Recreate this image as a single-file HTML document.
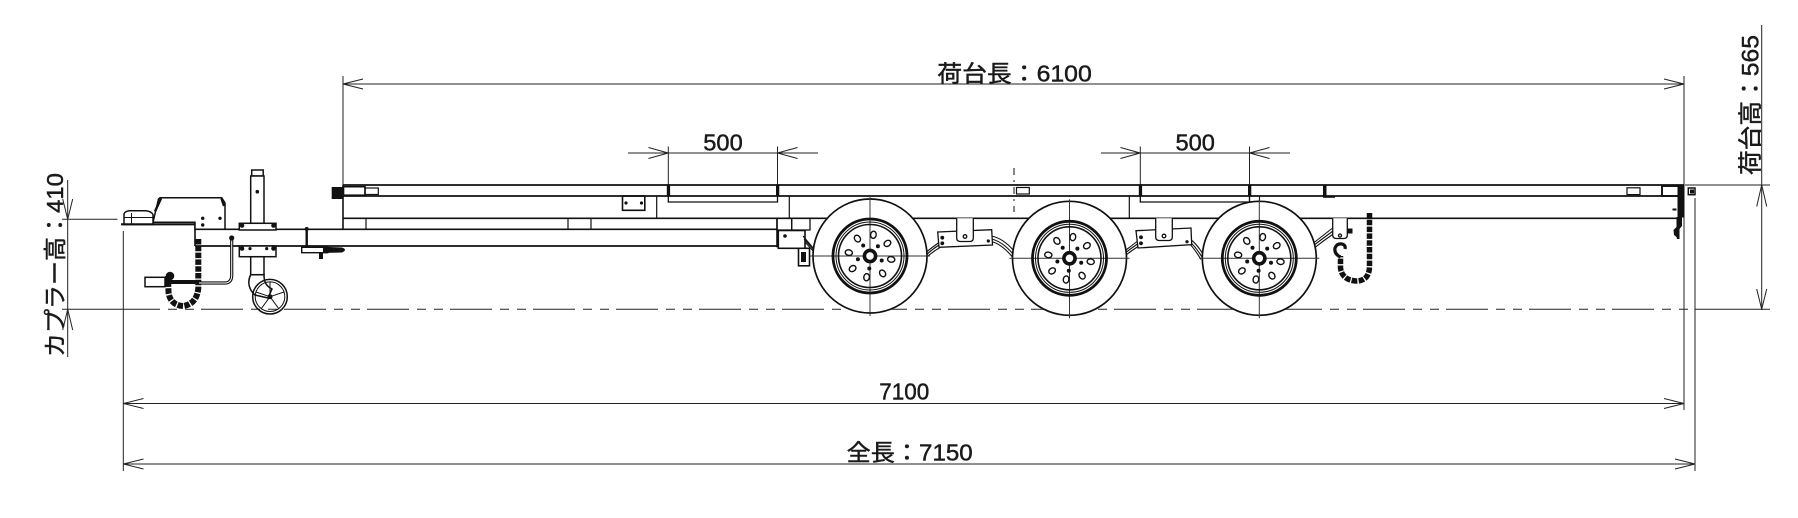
<!DOCTYPE html>
<html><head><meta charset="utf-8">
<style>
html,body{margin:0;padding:0;background:#fff;}
svg{display:block;}
text{font-family:"Liberation Sans","Noto Sans CJK JP",sans-serif;fill:#1a1a1a;stroke:#1a1a1a;stroke-width:0.45;}
</style></head><body>
<svg width="1798" height="518" viewBox="0 0 1798 518" xmlns="http://www.w3.org/2000/svg">
<defs>
<g id="wheel">
  <circle r="57" fill="#fff" stroke="#111" stroke-width="1.7"/>
  <line x1="0" y1="-59" x2="0" y2="60" stroke="#333" stroke-width="1"/>
  <line x1="-60" y1="0" x2="60" y2="0" stroke="#333" stroke-width="1"/>
  <circle r="37" fill="none" stroke="#111" stroke-width="2.8"/>
  <circle r="34" fill="none" stroke="#111" stroke-width="1"/>
  <circle r="31.5" fill="none" stroke="#111" stroke-width="1.6"/>
  <g fill="#fff" stroke="#111" stroke-width="1.4">
    <ellipse cx="21.2" cy="3.4" rx="3.6" ry="2.8" transform="rotate(9 21.2 3.4)"/>
    <ellipse cx="12.6" cy="17.4" rx="3.6" ry="2.8" transform="rotate(54 12.6 17.4)"/>
    <ellipse cx="-3.4" cy="21.2" rx="3.6" ry="2.8" transform="rotate(99 -3.4 21.2)"/>
    <ellipse cx="-17.4" cy="12.6" rx="3.6" ry="2.8" transform="rotate(144 -17.4 12.6)"/>
    <ellipse cx="-21.2" cy="-3.4" rx="3.6" ry="2.8" transform="rotate(189 -21.2 -3.4)"/>
    <ellipse cx="-12.6" cy="-17.4" rx="3.6" ry="2.8" transform="rotate(234 -12.6 -17.4)"/>
    <ellipse cx="3.4" cy="-21.2" rx="3.6" ry="2.8" transform="rotate(279 3.4 -21.2)"/>
    <ellipse cx="17.4" cy="-12.6" rx="3.6" ry="2.8" transform="rotate(324 17.4 -12.6)"/>
  </g>
  <g fill="#111">
    <circle cx="11.7" cy="4.5" r="2"/>
    <circle cx="-0.7" cy="12.5" r="2"/>
    <circle cx="-12.1" cy="3.2" r="2"/>
    <circle cx="-6.8" cy="-10.5" r="2"/>
    <circle cx="7.9" cy="-9.7" r="2"/>
  </g>
  <circle r="5.6" fill="#fff" stroke="#111" stroke-width="3.6"/>
</g>
</defs>

<!-- ========== DIMENSIONS ========== -->
<g stroke="#222" stroke-width="1" fill="none">
  <!-- 6100 -->
  <line x1="343" y1="84" x2="1684" y2="84"/>
  <polyline points="363,79 343,84 363,89"/>
  <polyline points="1664,79 1684,84 1664,89"/>
  <line x1="343" y1="76" x2="343" y2="185"/>
  <line x1="1684" y1="76" x2="1684" y2="410"/>
  <!-- 500 #1 -->
  <line x1="628" y1="153" x2="818" y2="153"/>
  <polyline points="648.5,147.5 668.3,153 648.5,158.5"/>
  <polyline points="797.5,147.5 777.5,153 797.5,158.5"/>
  <line x1="668.3" y1="146.5" x2="668.3" y2="185"/>
  <line x1="777.5" y1="146.5" x2="777.5" y2="185"/>
  <!-- 500 #2 -->
  <line x1="1101" y1="153" x2="1290" y2="153"/>
  <polyline points="1120.5,147.5 1140.3,153 1120.5,158.5"/>
  <polyline points="1269.5,147.5 1249.5,153 1269.5,158.5"/>
  <line x1="1140.3" y1="146.5" x2="1140.3" y2="185"/>
  <line x1="1249.5" y1="146.5" x2="1249.5" y2="196"/>
  <!-- 7100 -->
  <line x1="123.3" y1="403.5" x2="1684" y2="403.5"/>
  <polyline points="143.5,398.5 123.3,403.5 143.5,408.5"/>
  <polyline points="1664,398.5 1684,403.5 1664,408.5"/>
  <!-- 7150 -->
  <line x1="123.3" y1="464" x2="1695" y2="464"/>
  <polyline points="143.5,459 123.3,464 143.5,469"/>
  <polyline points="1675,459 1695,464 1675,469"/>
  <line x1="123.3" y1="231" x2="123.3" y2="471"/>
  <line x1="1695" y1="198" x2="1695" y2="471"/>
  <!-- 410 (left) -->
  <line x1="67.7" y1="180" x2="67.7" y2="357"/>
  <polyline points="62.7,199 67.7,219.3 72.7,199"/>
  <polyline points="62.7,330 67.7,309.3 72.7,330"/>
  <line x1="62" y1="219.3" x2="117.5" y2="219.3"/>
  <!-- 565 (right) -->
  <line x1="1761.7" y1="25" x2="1761.7" y2="310"/>
  <polyline points="1756.7,206.5 1761.7,185 1766.7,206.5"/>
  <polyline points="1756.7,289 1761.7,309.3 1766.7,289"/>
  <line x1="1685" y1="185" x2="1770" y2="185"/>
  <!-- ground line -->
  <line x1="62" y1="309.3" x2="118" y2="309.3"/>
  <line x1="118" y1="309.3" x2="1707" y2="309.3" stroke-dasharray="42 8 9 8 9 7"/>
  <line x1="1707" y1="309.3" x2="1770" y2="309.3"/>
</g>

<!-- dimension texts -->
<text x="937.3" y="81.5" font-size="23" textLength="154.5" lengthAdjust="spacingAndGlyphs">荷台長：6100</text>
<text x="703.3" y="150.7" font-size="23" textLength="39.4" lengthAdjust="spacingAndGlyphs">500</text>
<text x="1175.5" y="150.7" font-size="23" textLength="39.4" lengthAdjust="spacingAndGlyphs">500</text>
<text x="879.3" y="399.3" font-size="23" textLength="50" lengthAdjust="spacingAndGlyphs">7100</text>
<text x="846.7" y="460.5" font-size="23" textLength="126" lengthAdjust="spacingAndGlyphs">全長：7150</text>
<text transform="translate(1758.5,175) rotate(-90)" font-size="24" textLength="140" lengthAdjust="spacingAndGlyphs">荷台高：565</text>
<text transform="translate(63,357) rotate(-90)" font-size="23" textLength="184" lengthAdjust="spacingAndGlyphs">カプラー高：410</text>

<!-- ========== TRAILER BODY ========== -->
<g stroke="#111" stroke-width="1.6" fill="none">
  <!-- deck -->
  <line x1="343" y1="185" x2="1684" y2="185" stroke-width="1.8"/>
  <line x1="343" y1="196" x2="1682" y2="196" stroke-width="1.7"/>
  <line x1="343" y1="218.3" x2="1677" y2="218.3" stroke-width="1.7"/>
  <line x1="343" y1="185" x2="343" y2="229.3"/>
  <rect x="343.5" y="186.7" width="21.5" height="8.5"/>
  <rect x="365" y="188" width="13.3" height="6.5" stroke-width="1.2"/>
  <!-- tongue / drawbar -->
  <line x1="195" y1="229.3" x2="777" y2="229.3" stroke-width="1.7"/>
  <line x1="195" y1="246" x2="777" y2="246" stroke-width="1.7"/>
  <line x1="195" y1="222" x2="195" y2="246"/>
  <line x1="366" y1="218.3" x2="366" y2="229.3" stroke-width="1.2"/>
  <line x1="568" y1="218.3" x2="568" y2="229.3" stroke-width="1.2"/>
  <line x1="591" y1="218.3" x2="591" y2="229.3" stroke-width="1.2"/>
  <!-- small box with dots -->
  <rect x="622.5" y="196" width="22.3" height="14.3"/>
  <!-- slot 1 -->
  <line x1="656.7" y1="196" x2="656.7" y2="218.3" stroke-width="1.2"/>
  <polyline points="668.3,196 668.3,202 777.5,202 777.5,196" stroke-width="1.3"/>
  <line x1="789.3" y1="196" x2="789.3" y2="218.3" stroke-width="1.2"/>
  <!-- front axle area -->
  <line x1="777" y1="218.3" x2="777" y2="247.3"/>
  <rect x="777" y="218.3" width="14.7" height="11.7" stroke-width="1.3"/>
  <rect x="791.7" y="218.3" width="18.3" height="11.7" stroke-width="1.3"/>
  <rect x="778.3" y="230.5" width="26.7" height="17.8" fill="#fff"/>
  <rect x="798.5" y="248.3" width="11" height="17.5" fill="#fff" stroke-width="1.6"/>
  <!-- center mark -->
  <line x1="1014" y1="168" x2="1014" y2="212" stroke-width="1" stroke-dasharray="7 5 2 5"/>
  <rect x="1016.5" y="187.5" width="12.8" height="6.5" stroke-width="1.2"/>
  <!-- slot 2 -->
  <line x1="1129.3" y1="196" x2="1129.3" y2="218.3" stroke-width="1.2"/>
  <polyline points="1140.3,196 1140.3,202 1249.5,202 1249.5,196" stroke-width="1.3"/>
  <rect x="1249.5" y="196" width="10" height="5.7" stroke-width="1.1"/>
  <!-- rear end -->
  <line x1="1323" y1="196.8" x2="1335" y2="196.8" stroke-width="2"/>
  <rect x="1627" y="187.8" width="13" height="6.8" stroke-width="1.2"/>
  <rect x="1662" y="186" width="19.5" height="10" stroke-width="1.9"/>
  <rect x="1688.3" y="188" width="6.7" height="6.7" stroke-width="1.5"/>
</g>
<g fill="#111">
  <rect x="331.7" y="187" width="11.5" height="12"/>
  <rect x="666.8" y="185" width="3.3" height="11"/>
  <rect x="776" y="185" width="3.3" height="11"/>
  <rect x="1138.8" y="185" width="3.3" height="11"/>
  <rect x="1248" y="185" width="3.3" height="11"/>
  <rect x="1323" y="185" width="3.5" height="12"/>
  <rect x="1677.5" y="185.5" width="7" height="32"/>
  <rect x="1690" y="189.5" width="4" height="4"/>
  <path d="M1676.5,217 L1676.5,227 L1673.5,230 L1674,235 L1676.5,237 L1677,239 L1679.5,239 L1679.5,229 L1682,226 L1682,217 Z"/>
  <rect x="1672.5" y="208.5" width="4" height="2"/>
  <circle cx="626" cy="203" r="1.6"/>
  <circle cx="641.5" cy="203" r="1.6"/>
  <circle cx="785" cy="236" r="1.8"/>
  <rect x="801" y="252" width="5" height="10"/>
</g>

<!-- springs (drawn before wheels) -->
<g stroke="#111" stroke-width="1.1" fill="none">
  <path d="M804,239 L815,251"/><path d="M805,242 L815,253"/><path d="M803,236 L814,249"/>
  <path d="M924,257 Q931,250 939,245"/><path d="M924,254 Q931,248 939,242.5"/><path d="M924,259.5 Q932,252 940,247.5"/>
  <path d="M991,236 Q1003,238 1014,251"/><path d="M991,239 Q1002,241 1013,254"/><path d="M991,241.5 Q1001,243.5 1012,256.5"/>
  <path d="M1124,254 Q1130,249 1137.5,244"/><path d="M1124,256.5 Q1131,251 1138,246.5"/><path d="M1124,251.5 Q1130,247 1137,241.5"/>
  <path d="M1190,239 Q1196,243 1203,254"/><path d="M1190,242 Q1195,246 1202,257"/><path d="M1190,244.5 Q1194,248 1201,259.5"/>
  <path d="M1313,246 Q1322,239 1333,231"/><path d="M1313,249 Q1323,241 1334,233.5"/><path d="M1313,243.5 Q1321,237 1332,228.5"/>
</g>

<!-- wheels -->
<use href="#wheel" x="870" y="256"/>
<use href="#wheel" x="1069.5" y="258.3"/>
<use href="#wheel" x="1259.3" y="258.3"/>

<!-- spring hangers -->
<g stroke="#111" stroke-width="1.3" fill="#fff">
  <polygon points="937.7,232 991.7,229.7 992.5,245 939,247.3"/>
  <path d="M956.7,218.3 L956.7,238 Q956.7,241.5 960.2,241.5 L969.8,241.5 Q973.3,241.5 973.3,238 L973.3,218.3"/>
  <circle cx="965" cy="236.5" r="1.8"/>
  <polygon points="1136,230.7 1191,228 1191.7,244.7 1138,248"/>
  <path d="M1155.7,218.3 L1155.7,237 Q1155.7,240.5 1159.2,240.5 L1168.8,240.5 Q1172.3,240.5 1172.3,237 L1172.3,218.3"/>
  <circle cx="1164" cy="236" r="1.8"/>
  <path d="M1332.7,218.3 L1332.7,235 Q1332.7,238.5 1336.2,238.5 L1343.8,238.5 Q1347.3,238.5 1347.3,235 L1347.3,218.3"/>
  <circle cx="1340" cy="235.5" r="1.5"/>
</g>
<g fill="#111">
  <circle cx="942.3" cy="237.7" r="1.9"/><circle cx="942.3" cy="243.3" r="1.9"/><circle cx="988.3" cy="241" r="1.6"/>
  <circle cx="1141" cy="237.3" r="1.9"/><circle cx="1141" cy="243.3" r="1.9"/><circle cx="1187" cy="241.7" r="1.6"/>
  <rect x="1347.3" y="228.5" width="5.2" height="5"/>
</g>

<!-- rear chain and hook -->
<path d="M1369.5,213 L1369.5,267 Q1369,281 1356,281 Q1342,280 1340.5,268 L1340.5,256" stroke="#111" stroke-width="5.5" fill="none" stroke-dasharray="5.5 1.3"/>
<path d="M1340.5,257 Q1334,254 1335,248 Q1337,243 1342,244 Q1346,245 1345,249" stroke="#111" stroke-width="3.2" fill="none"/>

<!-- ========== COUPLER / FRONT ========== -->
<g stroke="#111" stroke-width="1.5" fill="#fff">
  <path d="M153,222.3 L158.5,199 L160,197.7 L221.7,197.7 L225,203 L225,229.3 L195,229.3 L195,222.3 Z"/>
  <path d="M124,224.5 L124,214 Q125,211 130,210.8 L146,210.8 Q151,211.3 153,214.5 L153,224.5 Z"/>
</g>
<g stroke="#111" fill="none">
  <line x1="131.5" y1="213" x2="131.5" y2="224" stroke-width="1"/>
  <line x1="124" y1="217.5" x2="153" y2="217.5" stroke-width="1"/>
  <line x1="121" y1="224.3" x2="195" y2="224.3" stroke-width="2.2"/>
  <path d="M161,198.5 L155,211.5" stroke-width="2.4"/>
  <path d="M221.5,198.5 L224,206" stroke-width="2.4"/>
</g>
<g fill="#111">
  <circle cx="202.7" cy="218.3" r="1.7"/><circle cx="202.7" cy="225" r="1.7"/><circle cx="220" cy="218.3" r="1.7"/>
</g>

<!-- jack stand -->
<g stroke="#111" stroke-width="1.5" fill="#fff">
  <rect x="251.7" y="170" width="11.5" height="6"/>
  <rect x="250.7" y="176" width="13.3" height="47.3"/>
  <rect x="250.7" y="256.7" width="13.3" height="18"/>
  <rect x="239.3" y="223.3" width="36.7" height="6.7"/>
  <rect x="239.3" y="246" width="36.7" height="10.7"/>
  <path d="M250.7,274.7 C247,282 249,290 255,295 L268,298 L272,289 C266,286 264,282 264,274.7 Z"/>
  <circle cx="270" cy="296.7" r="17.3" fill="none"/>
</g>
<g stroke="#111" stroke-width="1" fill="none">
  <circle cx="270" cy="296.7" r="14.8"/>
  <line x1="270" y1="296.7" x2="270" y2="282"/>
  <line x1="270" y1="296.7" x2="284" y2="292"/>
  <line x1="270" y1="296.7" x2="279" y2="309"/>
  <line x1="270" y1="296.7" x2="261" y2="309"/>
  <line x1="270" y1="296.7" x2="256" y2="292"/>
</g>
<g fill="#111">
  <circle cx="257.3" cy="191.7" r="1.8"/>
  <circle cx="242" cy="225.5" r="2.3"/><circle cx="273.5" cy="225.5" r="2.3"/>
  <circle cx="242" cy="248.5" r="2.3"/><circle cx="273.5" cy="248.5" r="2.3"/>
  <circle cx="250" cy="248.6" r="1.6"/><circle cx="266.7" cy="248.6" r="1.6"/>
  <circle cx="270" cy="296.7" r="2.5"/>
</g>

<!-- front chain, connector, cable -->
<path d="M198.3,239 L198.3,288 Q197,304 183,306 Q170,305 168.5,292 L168,276" stroke="#111" stroke-width="6" fill="none" stroke-dasharray="5.5 1.3"/>
<circle cx="170" cy="276" r="4.3" fill="#111"/>
<path d="M198,283 L225,283 Q231.7,283 231.7,275 L231.7,239" stroke="#111" stroke-width="3.2" fill="none"/>
<path d="M198,283 L225,283 Q231.7,283 231.7,275 L231.7,240" stroke="#fff" stroke-width="1" fill="none"/>
<circle cx="231.7" cy="238" r="2.6" fill="#111"/>
<line x1="165" y1="282" x2="199" y2="282" stroke="#111" stroke-width="4"/>
<rect x="145" y="277.3" width="20" height="9.4" fill="#fff" stroke="#111" stroke-width="1.5"/>

<!-- hand crank -->
<g stroke="#111" fill="none">
  <line x1="306.7" y1="229" x2="306.7" y2="248" stroke-width="2.4"/>
  <rect x="301.7" y="247.3" width="26" height="5.4" stroke-width="1.4" fill="#fff"/>
</g>
<g fill="#111">
  <circle cx="306.7" cy="229" r="2"/>
  <path d="M323,246.8 L342,247.5 Q348,249.5 342,252.5 L323,253 Z"/>
  <rect x="319" y="253" width="4" height="6"/>
</g>

</svg>
</body></html>
